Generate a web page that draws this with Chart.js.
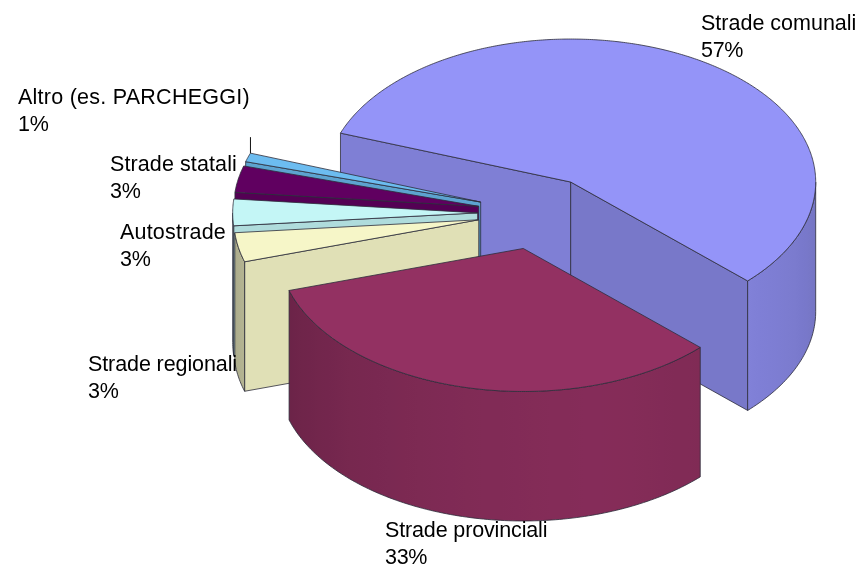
<!DOCTYPE html>
<html><head><meta charset="utf-8">
<style>html,body{margin:0;padding:0;background:#fff}canvas{display:block}</style>
<script src="https://cdn.jsdelivr.net/npm/chart.js@4/dist/chart.umd.min.js"></script>
</head><body><canvas id="c" width="861" height="567"></canvas>
<script>
const categories = ["Strade comunali","Strade provinciali","Strade regionali","Autostrade","Strade statali","Altro (es. PARCHEGGI)"];
const shares = [56.6,33.1,3.3,3.0,3.0,1.0];
const topColors = ["#9494F8","#933162","#F6F6C8","#C4F6F6","#600060","#6CBCF0"];
const labelAnchors = [[701,24],[385,531],[88,365],[120,233],[110,165],[18,98]];
const labelTracking = [0,-0.14,-0.1,0.2,0.1,0.25];
const explodeRatio = [0.255,0.255,0.245,0.245,0.245,0.245];

const cam = {cx:537.7, cy:213, a:245, b:143, depth:129.5};
const paintOrder = [0,5,4,3,2,1];
const shadeStops = [[0,.78],[44,.87],[73,.91],[110,.86],[134,.81],[163,.73],[180,.68]];
const FONT = '21.5px "Liberation Sans", Arial, sans-serif';
const LINE = '#2c2c3a';

function shade(deg){
  if(deg<=0) return shadeStops[0][1];
  for(let i=1;i<shadeStops.length;i++){
    const [d0,s0]=shadeStops[i-1],[d1,s1]=shadeStops[i];
    if(deg<=d1) return s0+(s1-s0)*(deg-d0)/(d1-d0);
  }
  return shadeStops[shadeStops.length-1][1];
}
function tint(hex,f){
  const n=parseInt(hex.slice(1),16);
  return `rgb(${Math.round((n>>16&255)*f)},${Math.round((n>>8&255)*f)},${Math.round((n&255)*f)})`;
}
const D2R=Math.PI/180;

const pie3d = {
  id:'pie3d',
  beforeDatasetDraw(chart,args){
    const arcs=chart.getDatasetMeta(args.index).data;
    const ctx=chart.ctx;
    const geom=arcs.map((el,i)=>{
      const s=el.startAngle,e=el.endAngle,m=(s+e)/2;
      return {s,e,
        ax:cam.cx+explodeRatio[i]*cam.a*Math.cos(m),
        ay:cam.cy+explodeRatio[i]*cam.b*Math.sin(m)};
    });
    const rim=(g,t)=>[g.ax+cam.a*Math.cos(t),g.ay+cam.b*Math.sin(t)];
    const norm=a=>(((a/D2R)%360)+360)%360;
    ctx.save();
    ctx.lineJoin='round';
    ctx.lineWidth=0.8;
    ctx.strokeStyle=LINE;
    const face=(g,t,normal,color)=>{
      const [x,y]=rim(g,t);
      ctx.beginPath();
      ctx.moveTo(g.ax,g.ay);ctx.lineTo(x,y);
      ctx.lineTo(x,y+cam.depth);ctx.lineTo(g.ax,g.ay+cam.depth);ctx.closePath();
      ctx.fillStyle=tint(color,shade(normal));ctx.fill();ctx.stroke();
    };
    for(const i of paintOrder){
      const g=geom[i],color=topColors[i];
      const nS=norm(g.s-Math.PI/2),nE=norm(g.e+Math.PI/2);
      if(nS>0&&nS<180) face(g,g.s,nS,color);
      if(nE>0&&nE<180) face(g,g.e,nE,color);
      for(const k of [0,1]){
        const lo=Math.max(g.s,k*2*Math.PI),hi=Math.min(g.e,k*2*Math.PI+Math.PI);
        if(hi<=lo) continue;
        const n=Math.max(2,Math.ceil((hi-lo)/D2R));
        const [xa]=rim(g,lo),[xb]=rim(g,hi);
        const grad=ctx.createLinearGradient(xa,0,xb,0);
        const steps=Math.max(2,Math.ceil((hi-lo)/(4*D2R)));
        for(let j=0;j<=steps;j++){
          const t=lo+(hi-lo)*j/steps;
          const [x]=rim(g,t);
          grad.addColorStop(Math.min(1,Math.max(0,(x-xa)/(xb-xa))),tint(color,shade(norm(t))));
        }
        ctx.beginPath();
        for(let j=0;j<=n;j++){const [x,y]=rim(g,lo+(hi-lo)*j/n);j?ctx.lineTo(x,y):ctx.moveTo(x,y);}
        for(let j=n;j>=0;j--){const [x,y]=rim(g,lo+(hi-lo)*j/n);ctx.lineTo(x,y+cam.depth);}
        ctx.closePath();ctx.fillStyle=grad;ctx.fill();ctx.stroke();
      }
      ctx.beginPath();ctx.moveTo(g.ax,g.ay);
      const n=Math.ceil((g.e-g.s)/D2R)*2;
      for(let j=0;j<=n;j++){const [x,y]=rim(g,g.s+(g.e-g.s)*j/n);ctx.lineTo(x,y);}
      ctx.closePath();ctx.fillStyle=color;ctx.fill();ctx.stroke();
    }
    const last=geom[geom.length-1];
    const [lx,ly]=rim(last,last.e);
    ctx.beginPath();ctx.moveTo(lx,ly);ctx.lineTo(lx,ly-16);ctx.strokeStyle='#111';ctx.lineWidth=1;ctx.stroke();
    ctx.fillStyle='#000';ctx.font=FONT;ctx.textBaseline='middle';ctx.textAlign='left';
    const total=shares.reduce((p,v)=>p+v,0);
    categories.forEach((name,i)=>{
      const [x,y]=labelAnchors[i];
      ctx.letterSpacing=labelTracking[i]+'px';
      ctx.fillText(name,x,y);
      ctx.letterSpacing='-0.3px';
      ctx.fillText(Math.round(shares[i]/total*100)+'%',x,y+27);
    });
    ctx.restore();
    return false;
  }
};

new Chart(document.getElementById('c'),{
  type:'pie',
  data:{labels:categories,datasets:[{data:shares,backgroundColor:topColors}]},
  options:{
    responsive:false,animation:false,rotation:-70,
    plugins:{legend:{display:false},tooltip:{enabled:false},title:{display:false}}
  },
  plugins:[pie3d]
});
</script></body></html>
